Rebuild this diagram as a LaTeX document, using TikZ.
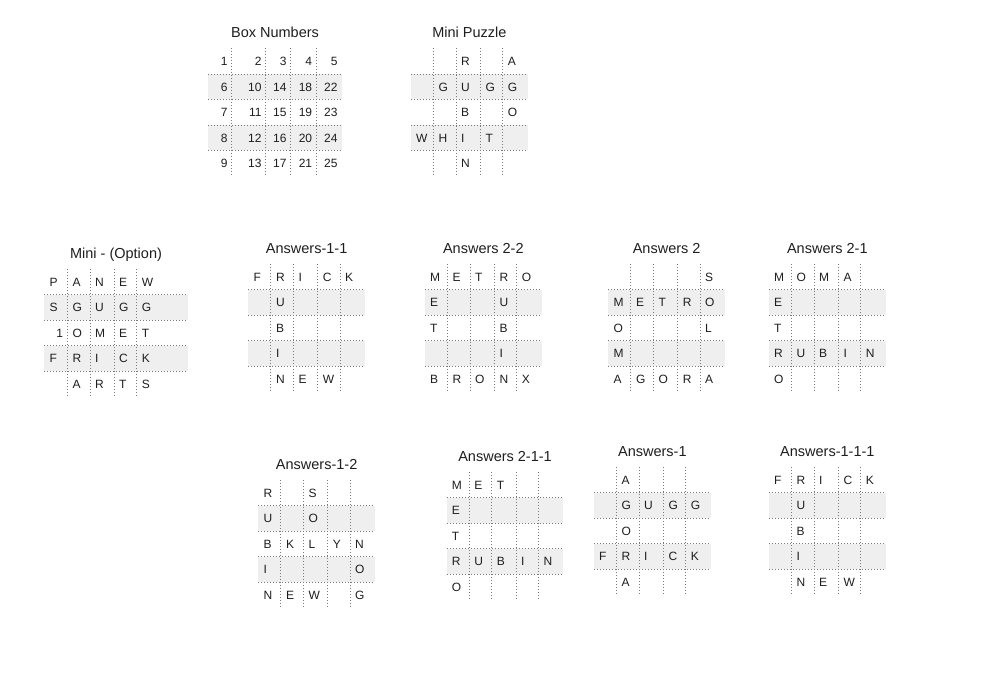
\documentclass[tikz,border=0pt]{standalone}
\usepackage{fontspec}
\setmainfont{Liberation Sans}
\definecolor{cellshade}{HTML}{EFEFEF}
\definecolor{dotgray}{HTML}{7A7A7A}
\definecolor{inkgray}{HTML}{1E1E1E}

\begin{document}
\begin{tikzpicture}[x=1pt, y=-1pt,
    shaded/.style={fill=cellshade},
    dotrule/.style={draw=dotgray, line width=0.8pt, dash pattern=on 1pt off 2pt},
    gridtitle/.style={font=\fontsize{14.5}{17}\selectfont, text=inkgray, inner sep=0pt, text height=10.4pt, text depth=0pt},
    letter/.style={font=\fontsize{12}{14}\selectfont, text=inkgray, inner sep=0pt, text height=8.6pt, text depth=0pt, anchor=west},
    number/.style={letter, anchor=east}]
        \useasboundingbox (0,0) rectangle (991,674);

        % Frames: shaded rows 2 and 4, dotted rules, title
        \foreach \gname/\gx/\gy/\gw/\cols/\gtitle in {
            box/208.3/48.5/133.4/{23.4,57.4,82.4,108}/Box Numbers,
            mini/411/48.5/116.7/{22.5,45,69.3,91.7}/Mini Puzzle,
            option/44.3/269/143.4/{23,45.7,69.7,92.4}/Mini - (Option),
            ans11/248.3/264.3/116.7/{22.5,45,69.3,91.7}/Answers-1-1,
            ans22/425/264.3/116.7/{22.5,45,69.3,91.7}/Answers 2-2,
            ans2/608.3/264.3/116.7/{22.5,45,69.3,91.7}/Answers 2,
            ans21/769/264.3/116.7/{22.5,45,69.3,91.7}/Answers 2-1,
            ans12/258.3/480/116.7/{22.5,45,69.3,91.7}/Answers-1-2,
            ans211/446.7/472/116.7/{22.5,45,69.3,91.7}/Answers 2-1-1,
            ans1/594/467/116.7/{22.5,45,69.3,91.7}/Answers-1,
            ans111/769/467/116.7/{22.5,45,69.3,91.7}/Answers-1-1-1} {
            \begin{scope}[shift={(\gx,\gy)}]
                \fill[shaded] (0,25.5) rectangle (\gw,51);
                \fill[shaded] (0,76.5) rectangle (\gw,102);
                \foreach \ry in {25.5,51,76.5,102}
                    \draw[dotrule] (0,\ry) -- (\gw,\ry);
                \foreach \cx in \cols
                    \draw[dotrule] (\cx,0) -- (\cx,127.5);
                \node[gridtitle] (\gname-title) at (\gw/2,-16) {\gtitle};
            \end{scope}
        }

        % Box Numbers (right aligned)
        \begin{scope}[shift={(208.3,48.5)}]
            \foreach \rowlist [count=\rw] in {{1,2,3,4,5},{6,10,14,18,22},{7,11,15,19,23},{8,12,16,20,24},{9,13,17,21,25}}
                \foreach \n [count=\cn] in \rowlist {
                    \pgfmathsetmacro\colx{{23.4,57.4,82.4,108,133.4}[\cn-1]}
                    \node[number] (box-\n) at (\colx-4,\rw*25.5-12.75) {\n};
                }
        \end{scope}

        % Mini Puzzle
        \begin{scope}[shift={(411,48.5)}]
            \foreach \ltr/\cn/\rw in {R/3/1, A/5/1, G/2/2, U/3/2, G/4/2, G/5/2, B/3/3, O/5/3, W/1/4, H/2/4, I/3/4, T/4/4, N/3/5} {
                \pgfmathsetmacro\colx{{0,22.5,45,69.3,91.7}[\cn-1]}
                \node[letter] (mini-\cn-\rw) at (\colx+5,\rw*25.5-12.75) {\ltr};
            }
        \end{scope}

        % Mini - (Option)
        \begin{scope}[shift={(44.3,269)}]
            \foreach \ltr/\cn/\rw in {P/1/1, A/2/1, N/3/1, E/4/1, W/5/1, S/1/2, G/2/2, U/3/2, G/4/2, G/5/2, O/2/3, M/3/3, E/4/3, T/5/3, F/1/4, R/2/4, I/3/4, C/4/4, K/5/4, A/2/5, R/3/5, T/4/5, S/5/5} {
                \pgfmathsetmacro\colx{{0,23,45.7,69.7,92.4}[\cn-1]}
                \node[letter] (option-\cn-\rw) at (\colx+5,\rw*25.5-12.75) {\ltr};
            }
            \node[number] (option-1-3) at (19,63.75) {1};
        \end{scope}

        % Answers-1-1
        \begin{scope}[shift={(248.3,264.3)}]
            \foreach \ltr/\cn/\rw in {F/1/1, R/2/1, I/3/1, C/4/1, K/5/1, U/2/2, B/2/3, I/2/4, N/2/5, E/3/5, W/4/5} {
                \pgfmathsetmacro\colx{{0,22.5,45,69.3,91.7}[\cn-1]}
                \node[letter] (ans11-\cn-\rw) at (\colx+5,\rw*25.5-12.75) {\ltr};
            }
        \end{scope}

        % Answers 2-2
        \begin{scope}[shift={(425,264.3)}]
            \foreach \ltr/\cn/\rw in {M/1/1, E/2/1, T/3/1, R/4/1, O/5/1, E/1/2, U/4/2, T/1/3, B/4/3, I/4/4, B/1/5, R/2/5, O/3/5, N/4/5, X/5/5} {
                \pgfmathsetmacro\colx{{0,22.5,45,69.3,91.7}[\cn-1]}
                \node[letter] (ans22-\cn-\rw) at (\colx+5,\rw*25.5-12.75) {\ltr};
            }
        \end{scope}

        % Answers 2
        \begin{scope}[shift={(608.3,264.3)}]
            \foreach \ltr/\cn/\rw in {S/5/1, M/1/2, E/2/2, T/3/2, R/4/2, O/5/2, O/1/3, L/5/3, M/1/4, A/1/5, G/2/5, O/3/5, R/4/5, A/5/5} {
                \pgfmathsetmacro\colx{{0,22.5,45,69.3,91.7}[\cn-1]}
                \node[letter] (ans2-\cn-\rw) at (\colx+5,\rw*25.5-12.75) {\ltr};
            }
        \end{scope}

        % Answers 2-1
        \begin{scope}[shift={(769,264.3)}]
            \foreach \ltr/\cn/\rw in {M/1/1, O/2/1, M/3/1, A/4/1, E/1/2, T/1/3, R/1/4, U/2/4, B/3/4, I/4/4, N/5/4, O/1/5} {
                \pgfmathsetmacro\colx{{0,22.5,45,69.3,91.7}[\cn-1]}
                \node[letter] (ans21-\cn-\rw) at (\colx+5,\rw*25.5-12.75) {\ltr};
            }
        \end{scope}

        % Answers-1-2
        \begin{scope}[shift={(258.3,480)}]
            \foreach \ltr/\cn/\rw in {R/1/1, S/3/1, U/1/2, O/3/2, B/1/3, K/2/3, L/3/3, Y/4/3, N/5/3, I/1/4, O/5/4, N/1/5, E/2/5, W/3/5, G/5/5} {
                \pgfmathsetmacro\colx{{0,22.5,45,69.3,91.7}[\cn-1]}
                \node[letter] (ans12-\cn-\rw) at (\colx+5,\rw*25.5-12.75) {\ltr};
            }
        \end{scope}

        % Answers 2-1-1
        \begin{scope}[shift={(446.7,472)}]
            \foreach \ltr/\cn/\rw in {M/1/1, E/2/1, T/3/1, E/1/2, T/1/3, R/1/4, U/2/4, B/3/4, I/4/4, N/5/4, O/1/5} {
                \pgfmathsetmacro\colx{{0,22.5,45,69.3,91.7}[\cn-1]}
                \node[letter] (ans211-\cn-\rw) at (\colx+5,\rw*25.5-12.75) {\ltr};
            }
        \end{scope}

        % Answers-1
        \begin{scope}[shift={(594,467)}]
            \foreach \ltr/\cn/\rw in {A/2/1, G/2/2, U/3/2, G/4/2, G/5/2, O/2/3, F/1/4, R/2/4, I/3/4, C/4/4, K/5/4, A/2/5} {
                \pgfmathsetmacro\colx{{0,22.5,45,69.3,91.7}[\cn-1]}
                \node[letter] (ans1-\cn-\rw) at (\colx+5,\rw*25.5-12.75) {\ltr};
            }
        \end{scope}

        % Answers-1-1-1
        \begin{scope}[shift={(769,467)}]
            \foreach \ltr/\cn/\rw in {F/1/1, R/2/1, I/3/1, C/4/1, K/5/1, U/2/2, B/2/3, I/2/4, N/2/5, E/3/5, W/4/5} {
                \pgfmathsetmacro\colx{{0,22.5,45,69.3,91.7}[\cn-1]}
                \node[letter] (ans111-\cn-\rw) at (\colx+5,\rw*25.5-12.75) {\ltr};
            }
        \end{scope}

    \end{tikzpicture}
\end{document}
